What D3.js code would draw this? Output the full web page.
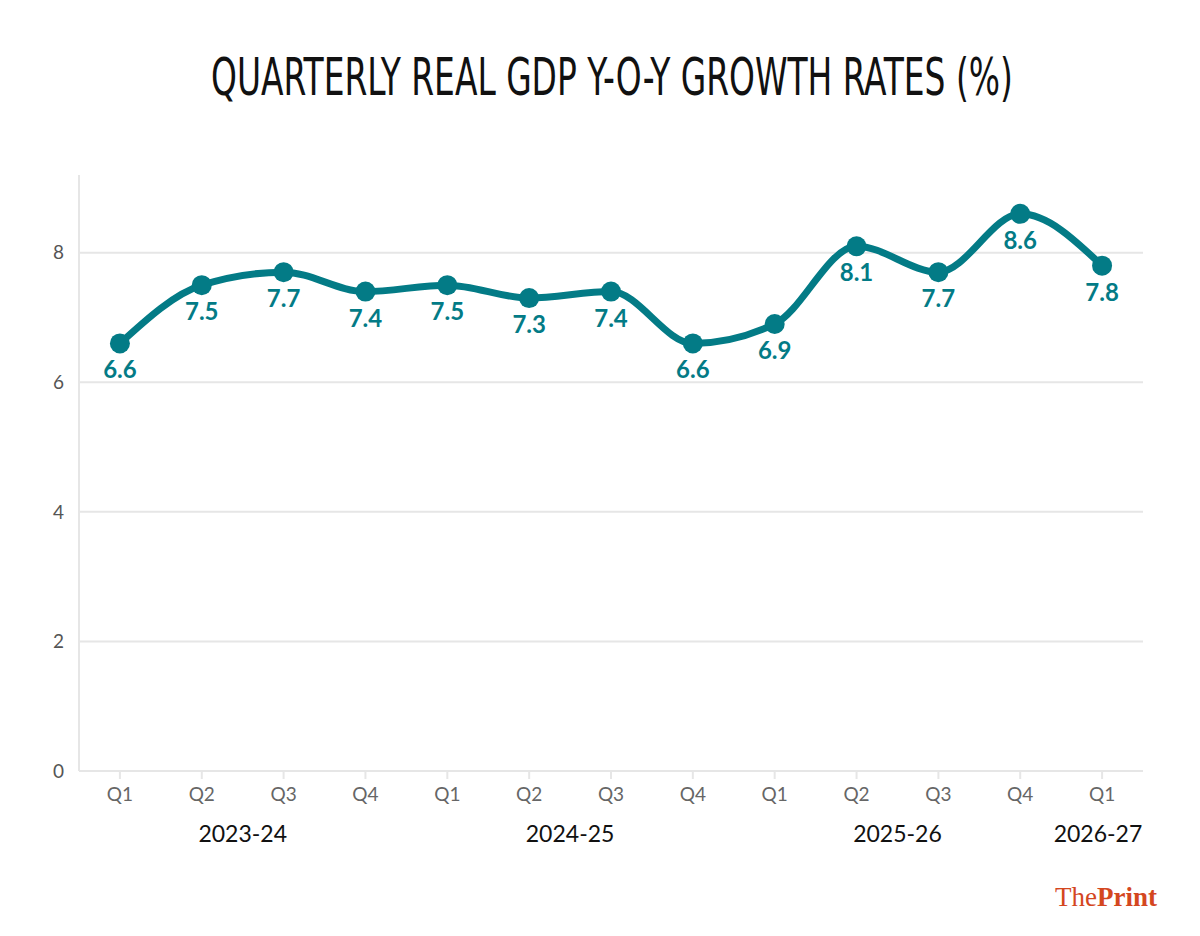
<!DOCTYPE html>
<html>
<head>
<meta charset="utf-8">
<script src="https://cdn.jsdelivr.net/npm/d3@7"></script>
<style>
  html, body { margin: 0; padding: 0; background: #fff; }
  svg { display: block; }
</style>
</head>
<body>
<svg id="chart" width="1200" height="936"></svg>
<script>
const title = "QUARTERLY REAL GDP Y-O-Y GROWTH RATES (%)";
const quarters = ["Q1","Q2","Q3","Q4","Q1","Q2","Q3","Q4","Q1","Q2","Q3","Q4","Q1"];
const growth = [6.6, 7.5, 7.7, 7.4, 7.5, 7.3, 7.4, 6.6, 6.9, 8.1, 7.7, 8.6, 7.8];
const yearLabels = ["2023-24", "2024-25", "2025-26", "2026-27"];
// position of each year label in category-index units
const yearPositions = [1.5, 5.5, 9.5, 11.95];
const yTicks = [0, 2, 4, 6, 8];

(function () {
const svg = d3.select("#chart");
const teal = "#037b86";
const gridColor = "#e6e6e6";

const pLeft = 79, pRight = 1143, pTop = 175, pBottom = 771;
const idx = d3.range(quarters.length);
const x = d3.scalePoint().domain(idx).range([pLeft, pRight]).padding(0.5);
const step = x.step();
const xPos = v => x(0) + v * step;
const y = d3.scaleLinear().domain([0, 9.2]).range([pBottom, pTop]);

// Title (condensed horizontally to match the reference width)
const titleG = svg.append("g");
const titleText = titleG.append("text")
  .attr("x", 0).attr("y", 0)
  .style("font-family", "'DejaVu Sans Condensed', 'Liberation Sans Narrow', sans-serif")
  .style("font-size", "51px")
  .style("fill", "#111")
  .text(title);
const natural = titleText.node().getComputedTextLength();
const targetW = 802;
titleG.attr("transform", `translate(211,95) scale(${targetW / natural},1)`);

// Gridlines
svg.append("g").selectAll("line").data(yTicks).join("line")
  .attr("x1", pLeft).attr("x2", pRight)
  .attr("y1", d => y(d)).attr("y2", d => y(d))
  .attr("stroke", gridColor).attr("stroke-width", 2);

// left axis line
svg.append("line")
  .attr("x1", pLeft).attr("x2", pLeft)
  .attr("y1", pTop).attr("y2", pBottom)
  .attr("stroke", gridColor).attr("stroke-width", 2);

// Y tick labels
svg.append("g").selectAll("text").data(yTicks).join("text")
  .attr("x", 64).attr("y", d => y(d))
  .attr("text-anchor", "end").attr("dy", "0.35em")
  .style("font-family", "Lato, sans-serif").style("font-size", "19px")
  .style("fill", "#555")
  .text(d => d);

// x tick marks
svg.append("g").selectAll("line").data(idx).join("line")
  .attr("x1", d => x(d)).attr("x2", d => x(d))
  .attr("y1", pBottom).attr("y2", pBottom + 8)
  .attr("stroke", gridColor).attr("stroke-width", 2);

// Quarter labels
svg.append("g").selectAll("text").data(idx).join("text")
  .attr("x", d => x(d)).attr("y", 801)
  .attr("text-anchor", "middle")
  .style("font-family", "Lato, sans-serif").style("font-size", "19px")
  .style("fill", "#666")
  .text(d => quarters[d]);

// Year labels
svg.append("g").selectAll("text").data(yearLabels).join("text")
  .attr("x", (d, i) => xPos(yearPositions[i])).attr("y", 842)
  .attr("text-anchor", "middle")
  .style("font-family", "Lato, sans-serif").style("font-size", "23px")
  .style("fill", "#111")
  .text(d => d);

// Line
const line = d3.line()
  .x(d => x(d))
  .y(d => y(growth[d]))
  .curve(d3.curveMonotoneX);

svg.append("path")
  .datum(idx)
  .attr("d", line)
  .attr("fill", "none")
  .attr("stroke", teal)
  .attr("stroke-width", 7)
  .attr("stroke-linecap", "round")
  .attr("stroke-linejoin", "round");

// Points
svg.append("g").selectAll("circle").data(idx).join("circle")
  .attr("cx", d => x(d)).attr("cy", d => y(growth[d]))
  .attr("r", 10)
  .attr("fill", teal);

// Value labels
svg.append("g").selectAll("text").data(idx).join("text")
  .attr("x", d => x(d)).attr("y", d => y(growth[d]) + 35)
  .attr("text-anchor", "middle")
  .style("font-family", "Lato, sans-serif").style("font-size", "24px")
  .style("font-weight", "bold")
  .style("fill", teal)
  .style("stroke", "#fff").style("stroke-width", 4)
  .style("paint-order", "stroke")
  .style("stroke-linejoin", "round")
  .text(d => growth[d].toFixed(1));

// Logo
const logo = svg.append("text")
  .attr("x", 1157).attr("y", 906)
  .attr("text-anchor", "end")
  .style("font-family", "'Liberation Serif', 'DejaVu Serif', serif")
  .style("font-size", "27px")
  .style("fill", "#d4471f");
logo.append("tspan").text("The");
logo.append("tspan").style("font-weight", "bold").text("Print");
})();
</script>
</body>
</html>
